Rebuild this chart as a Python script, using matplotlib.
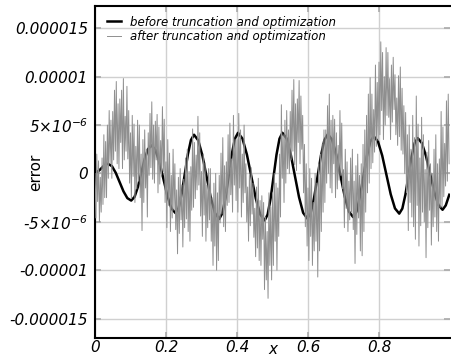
import numpy as np
import matplotlib
matplotlib.use("Agg")
import matplotlib.pyplot as plt

plt.rcParams['font.family'] = ['DejaVu Sans']
plt.rcParams['mathtext.fontset'] = 'custom'
plt.rcParams['mathtext.rm'] = 'DejaVu Sans:italic'
plt.rcParams['mathtext.it'] = 'DejaVu Sans:italic'

# error values are in units of 1e-6
before_x = [0.000, 0.0062, 0.0123, 0.0185, 0.0247, 0.0308,
            0.037, 0.0478, 0.0587, 0.0695, 0.0803, 0.0912,
            0.102, 0.1115, 0.121, 0.1305, 0.140, 0.1495,
            0.159, 0.1703, 0.1817, 0.193, 0.2043, 0.2157,
            0.227, 0.2357, 0.2443, 0.253, 0.2617, 0.2703,
            0.279, 0.2908, 0.3027, 0.3145, 0.3263, 0.3382,
            0.350, 0.3588, 0.3677, 0.3765, 0.3853, 0.3942,
            0.403, 0.4155, 0.428, 0.4405, 0.453, 0.4655,
            0.478, 0.4863, 0.4947, 0.503, 0.5113, 0.5197,
            0.528, 0.5397, 0.5513, 0.563, 0.5747, 0.5863,
            0.598, 0.6077, 0.6173, 0.627, 0.6367, 0.6463,
            0.656, 0.6678, 0.6797, 0.6915, 0.7033, 0.7152,
            0.727, 0.7367, 0.7463, 0.756, 0.7657, 0.7753,
            0.785, 0.797, 0.809, 0.821, 0.833, 0.845,
            0.857, 0.8657, 0.8743, 0.883, 0.8917, 0.9003,
            0.909, 0.9207, 0.9323, 0.944, 0.9557, 0.9673,
            0.979, 0.988, 0.998]
before_y = [0.10, 0.16, 0.33, 0.55, 0.78, 0.94,
            1.00, 0.75, 0.05, -0.90, -1.85, -2.55,
            -2.80, -2.42, -1.38, 0.05, 1.48, 2.52,
            2.90, 2.43, 1.15, -0.60, -2.35, -3.63,
            -4.10, -3.56, -2.08, -0.05, 1.98, 3.46,
            4.00, 3.42, 1.83, -0.35, -2.53, -4.12,
            -4.70, -4.10, -2.48, -0.25, 1.98, 3.60,
            4.20, 3.59, 1.94, -0.33, -2.59, -4.24,
            -4.85, -4.24, -2.59, -0.33, 1.94, 3.59,
            4.20, 3.61, 1.99, -0.23, -2.44, -4.06,
            -4.65, -4.07, -2.48, -0.30, 1.88, 3.47,
            4.05, 3.48, 1.91, -0.23, -2.36, -3.93,
            -4.50, -3.94, -2.41, -0.33, 1.76, 3.29,
            3.85, 3.31, 1.85, -0.15, -2.15, -3.61,
            -4.15, -3.63, -2.20, -0.25, 1.70, 3.13,
            3.65, 3.15, 1.80, -0.05, -1.90, -3.25,
            -3.75, -3.30, -2.20]

after_y = [0.0, -4.6, 2.0, -2.9, 1.3, -5.0, -0.4, -4.0, 1.6, -3.2,
           4.0, -2.5, 3.3, -2.5, 5.0, -0.5, 6.5, 1.0, 5.5, -0.5,
           6.4, 1.4, 8.6, 2.3, 9.5, 1.0, 7.2, 0.5, 7.7, 3.2,
           8.6, 0.5, 9.8, 1.4, 5.9, 2.3, 9.0, 1.5, 6.5, -1.0,
           4.2, -2.6, 6.0, -0.3, 5.1, -3.0, 2.8, -1.6, 5.5, -0.8,
           5.0, -2.5, 2.0, -5.9, 3.5, -3.0, 4.5, -1.5, 2.5, -4.5,
           4.2, -0.2, 6.2, 0.6, 7.4, -0.6, 5.0, -1.0, 5.4, 1.4,
           6.1, -2.0, 4.8, -1.1, 3.4, -0.2, 6.9, 0.2, 5.6, -3.0,
           1.2, -5.6, 3.5, -3.3, 2.1, -6.0, -0.2, -4.6, 2.5, -3.8,
           1.0, -5.8, -1.7, -8.3, -0.4, -6.2, 0.5, -4.8, -1.2, -7.6,
           -0.6, -5.6, 1.6, -4.7, 2.5, -6.0, 0.2, -7.0, 0.7, -3.8,
           4.6, -3.5, 3.2, -2.6, 1.9, -1.7, 5.9, -1.2, 4.2, -4.4,
           0.2, -6.5, 2.0, -4.3, 1.1, -7.0, -1.2, -5.6, 0.5, -4.8,
           0.5, -7.0, -2.5, -9.5, -1.0, -7.5, 0.0, -10.0, -2.0, -9.0,
           -0.2, -5.1, 2.1, -4.2, 3.7, -5.5, 0.8, -6.0, 1.2, -3.3,
           4.0, -3.0, 5.2, -2.2, 1.5, -4.0, 6.0, -1.2, 3.5, -2.8,
           3.5, -4.0, 6.2, -1.5, 4.5, -4.5, 2.0, -3.0, 5.0, -2.0,
           1.0, -5.0, -1.4, -7.0, -0.2, -5.4, 0.6, -4.2, -1.0, -6.6,
           -3.6, -8.6, -1.4, -7.7, -0.5, -9.0, -2.8, -9.5, -2.3, -6.8,
           -3.0, -12.0, -4.5, -11.0, -6.0, -12.9, -2.0, -9.5, -3.5, -11.0,
           -2.0, -9.5, 0.0, -7.0, -1.0, -10.0, -1.5, -6.5, 2.0, -4.5,
           7.1, -0.5, 4.0, -3.0, 5.5, -1.0, 6.5, 0.5, 4.5, 0.0,
           6.4, 1.4, 8.6, 2.3, 9.7, 0.9, 7.2, 0.3, 7.7, 3.2,
           9.6, 1.0, 8.0, 2.5, 6.0, -2.0, 3.0, -5.5, 1.0, -7.5,
           -1.5, -9.0, 0.5, -6.5, -0.5, -9.5, -3.0, -8.0, 0.0, -7.0,
           -1.0, -10.7, 1.0, -8.0, 2.0, -6.0, 3.0, -4.0, 4.5, -3.0,
           4.5, -1.0, 7.0, 0.0, 8.2, -1.5, 5.5, -2.0, 6.0, 1.0,
           5.6, -2.5, 4.2, -1.6, 2.9, -0.7, 6.5, -0.2, 5.2, -1.6,
           0.4, -5.6, 2.5, -3.6, 1.2, -6.0, -0.8, -4.8, 1.6, -4.0,
           2.5, -5.8, -0.8, -9.3, 0.8, -6.3, 2.0, -4.6, -0.2, -8.0,
           1.0, -8.5, 3.0, -6.0, 4.5, -4.0, 6.0, -2.0, 8.2, -1.0,
           9.9, 0.5, 8.2, 1.1, 6.6, 2.2, 11.2, 2.8, 9.4, 3.4,
           11.5, 4.0, 13.6, 6.5, 12.5, 3.5, 10.0, 5.0, 13.0, 6.0,
           12.5, 5.8, 9.8, 3.5, 11.2, 5.3, 12.0, 6.6, 10.2, 4.0,
           7.8, 2.9, 10.1, 3.8, 11.0, 2.4, 8.8, 2.0, 7.0, 0.0,
           6.3, -2.0, 4.0, -5.9, 5.0, -3.0, 2.5, -4.5, 6.0, -5.5,
           3.7, -6.8, 8.0, -3.3, 5.1, -7.5, 1.6, -5.4, 5.8, -4.0,
           4.0, -5.0, 0.4, -8.7, 2.2, -5.6, 3.4, -3.8, 1.0, -7.4,
           0.0, -5.5, 2.5, -4.5, 4.0, -6.0, 1.0, -7.0, 1.5, -3.5,
           6.4, -3.5, 4.8, -2.4, 3.1, -1.3, 7.5, -0.8, 8.2, 1.0]
after_x = np.linspace(0, 0.9975, len(after_y))

xticks = [0, 0.2, 0.4, 0.6, 0.8]
xtick_labels = ["0", "0.2", "0.4", "0.6", "0.8"]
yticks = [-15, -10, -5, 0, 5, 10, 15]
ytick_labels = ["-0.000015", "-0.00001", "-5\u00d710$^{-6}$", "0",
                "5\u00d710$^{-6}$", "0.00001", "0.000015"]

fig = plt.figure(figsize=(4.51, 3.57), dpi=100)
ax = fig.add_axes([0.2106, 0.0532, 0.7872, 0.9300])

ax.plot(before_x, before_y, color='black', lw=1.8,
        label='before truncation and optimization', zorder=3)
ax.plot(after_x, after_y, color='#8f8f8f', lw=0.7,
        label='after truncation and optimization', zorder=4)

ax.set_xlim(0, 1.0)
ax.set_ylim(-17.0, 17.3)
ax.set_xticks(xticks)
ax.set_xticklabels(xtick_labels, fontstyle='italic', fontsize=11)
ax.set_yticks(yticks)
ax.set_yticklabels(ytick_labels, fontstyle='italic', fontsize=11)
ax.tick_params(direction='in', length=4, width=1.2, color='#aaaaaa',
               top=True, right=True)
ax.tick_params(axis='x', pad=1.5)
ax.tick_params(axis='y', pad=5)
ax.grid(True, color='#d0d0d0', lw=1)
ax.set_axisbelow(True)

for s in ['left', 'bottom', 'top']:
    ax.spines[s].set_linewidth(1.5)
ax.spines['right'].set_visible(False)

ax.set_ylabel('error', fontsize=11)
ax.yaxis.set_label_coords(-0.146, 0.5)
ax.set_xlabel('x', fontstyle='italic', fontsize=11)
ax.xaxis.set_label_coords(0.5, -0.012)
ax.xaxis.label.set_va('top')

ax.legend(loc='upper left', bbox_to_anchor=(0.01, 0.996), frameon=False,
          prop={'style': 'italic', 'size': 8.5}, handlelength=1.2,
          handletextpad=0.8, labelspacing=0.12, borderpad=0.2)

fig.savefig('out.png', dpi=100)
